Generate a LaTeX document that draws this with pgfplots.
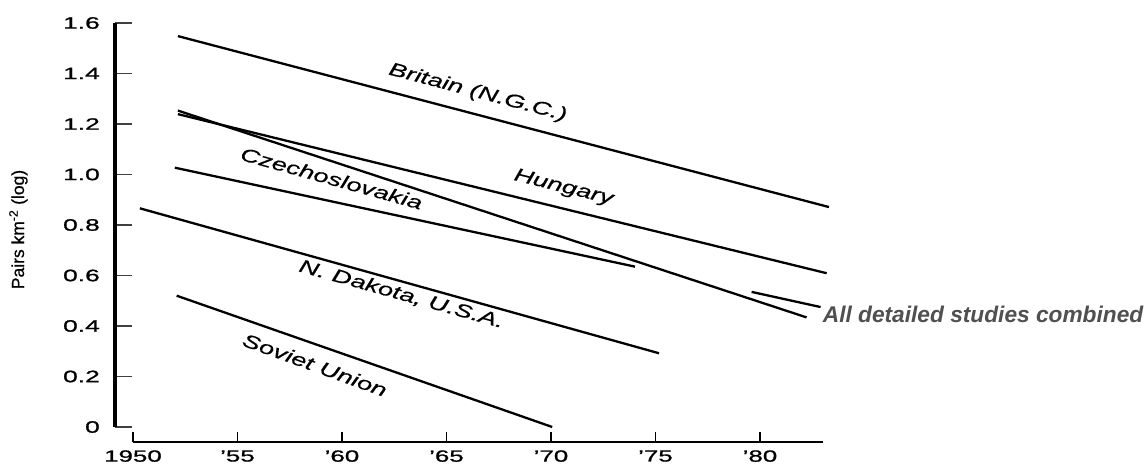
\documentclass[border=0pt]{standalone}
\usepackage{pgfplots}
\pgfplotsset{compat=1.18}
\usepackage{fontspec}
\setmainfont{Liberation Sans}
\newfontfamily\tickfont{Liberation Sans}[FakeStretch=1.6, FakeBold=1]
\newfontfamily\linefont{Liberation Sans}[FakeStretch=1.45, FakeBold=0.6]
\newfontfamily\axisfont{Liberation Sans}[FakeBold=0.6]
\definecolor{notegray}{HTML}{505050}
\tikzset{lbl/.style={font=\linefont\itshape\fontsize{18.5}{20}\selectfont, inner sep=0pt}}
\begin{document}
\begin{tikzpicture}
\useasboundingbox (0pt,0pt) rectangle (1147pt,465pt);
\pgfplotsset{
  frame/.style={
    at={(115pt,22.85pt)}, anchor=south west, scale only axis,
    width=728.57pt, height=431.8pt,
    xmin=1949.14, xmax=1984, ymin=-0.06, ymax=1.65,
    clip=false,
  },
}
% x axis: ticks and year labels
\begin{axis}[frame,
  axis x line*=bottom, axis y line=none,
  axis line style={draw=none},
  tick align=inside, major tick length=10pt,
  ytick=\empty,
  xtick={1950,1955,1960,1965,1970,1975,1980},
  xticklabels={1950,’55,’60,’65,’70,’75,’80},
  xtick style={line width=1.8pt, black},
  xticklabel style={font=\tickfont\fontsize{16.2}{18}\selectfont, inner sep=0pt, anchor=north},
  xticklabel shift=8pt,
]
\draw[line width=2pt] (axis cs:1950,-0.06) -- (axis cs:1983,-0.06);
\end{axis}
% y axis and the trend lines
\begin{axis}[frame,
  axis y line*=left, axis x line=none,
  axis line style={draw=none},
  tick align=inside, major tick length=17pt,
  xtick=\empty,
  ytick={0,0.2,0.4,0.6,0.8,1.0,1.2,1.4,1.6},
  yticklabels={0,0.2,0.4,0.6,0.8,1.0,1.2,1.4,1.6},
  ytick style={line width=1.5pt, black!75},
  yticklabel style={font=\tickfont\fontsize{16.5}{18}\selectfont, inner sep=0pt, anchor=east},
  yticklabel shift=15pt,
]
\draw[line width=3.2pt] (axis cs:1949.14,0) -- (axis cs:1949.14,1.6);

% Britain (N.G.C.)
\addplot[black, line width=2.3pt] coordinates {(1952.15,1.548) (1983.3,0.871)};
% Hungary
\addplot[black, line width=2.3pt] coordinates {(1952.15,1.239) (1983.19,0.609)};
% all detailed studies combined
\addplot[black, line width=2.3pt] coordinates {(1952.15,1.253) (1982.23,0.434)};
% Czechoslovakia
\addplot[black, line width=2.3pt] coordinates {(1952.0,1.027) (1974.02,0.635)};
% N. Dakota, U.S.A.
\addplot[black, line width=2.3pt] coordinates {(1950.33,0.866) (1975.17,0.292)};
% Soviet Union
\addplot[black, line width=2.3pt] coordinates {(1952.09,0.52) (1970.06,0.0)};
% short recent segment
\addplot[black, line width=2.3pt] coordinates {(1979.6,0.535) (1982.9,0.475)};

\node[lbl, rotate=-14.7] at (axis cs:1966.5,1.323) {Britain (N.G.C.)};
\node[lbl, rotate=-14]   at (axis cs:1970.6,0.947) {Hungary};
\node[lbl, rotate=-15.5] at (axis cs:1959.5,0.985) {Czechoslovakia};
\node[lbl, rotate=-15.6] at (axis cs:1962.85,0.525) {N. Dakota, U.S.A.};
\node[lbl, rotate=-20]   at (axis cs:1958.7,0.246) {Soviet Union};
\node[anchor=base west, inner sep=0pt, text=notegray,
      font=\bfseries\itshape\fontsize{22.7}{26}\selectfont]
  at (axis cs:1983.0,0.412) {All detailed studies combined};
\end{axis}
\node[rotate=90, anchor=base, inner sep=0pt, font=\axisfont\fontsize{17.5}{19}\selectfont]
  at (24pt,235.5pt) {Pairs km\textsuperscript{-2} (log)};
\end{tikzpicture}
\end{document}
